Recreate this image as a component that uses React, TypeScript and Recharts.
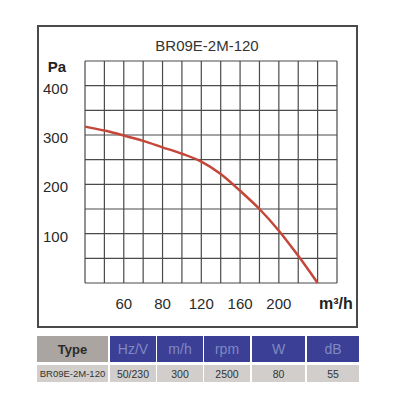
import React from 'react';
import { LineChart, Line, XAxis, YAxis, CartesianGrid } from 'recharts';

const chartTitle = 'BR09E-2M-120';
const flowIndex = [0, 1, 2, 3, 4, 5, 6, 7, 8, 9, 10, 11, 12];
const pressure = [317, 309, 299, 288, 275, 262, 246, 221, 187, 150, 106, 55, 0];
const xGridTicks = [0, 1, 2, 3, 4, 5, 6, 7, 8, 9, 10, 11, 12, 13];
const xLabelIndex = [2, 4, 6, 8, 10];
const xLabels = ['60', '80', '120', '160', '200'];
const yGridTicks = [0, 50, 100, 150, 200, 250, 300, 350, 400, 450];
const yLabels = [100, 200, 300, 400];
const tableHeaders = ['Type', 'Hz/V', 'm/h', 'rpm', 'W', 'dB'];
const tableValues = ['BR09E-2M-120', '50/230', '300', '2500', '80', '55'];

const data = flowIndex.map((x, i) => ({ x, p: pressure[i] }));

const FONT = '"Liberation Sans", Arial, sans-serif';

const YTick = (props: any) => {
  const { x, y, payload } = props;
  if (!yLabels.includes(payload.value)) return <g />;
  return (
    <text x={x} y={y} dy={8} textAnchor="end" fontSize={15} fill="#2a2a2a" fontFamily={FONT}>
      {payload.value}
    </text>
  );
};

const XTick = (props: any) => {
  const { x, y, payload } = props;
  const k = xLabelIndex.indexOf(payload.value);
  if (k < 0) return <g />;
  return (
    <text x={x} y={y} dy={26} textAnchor="middle" fontSize={15} fill="#2a2a2a" fontFamily={FONT}>
      {xLabels[k]}
    </text>
  );
};

const colX = [[37, 108], [110, 156], [157, 203], [204, 250], [252, 305], [307, 359]];

export default function App() {
  return (
    <div style={{ position: 'fixed', left: 0, top: 0, width: 400, height: 400, background: '#fff', fontFamily: FONT }}>
      <div style={{ position: 'absolute', left: 37, top: 25, width: 321, height: 303, border: '2px solid #4a4a4a', boxSizing: 'border-box' }} />
      <div style={{ position: 'absolute', left: 0, top: 0 }}>
        <LineChart width={400} height={400} data={data} margin={{ top: 61, right: 63, bottom: 87, left: 45 }}>
          <CartesianGrid stroke="#4a4a4a" strokeWidth={1.2} horizontalValues={yGridTicks} verticalValues={xGridTicks} />
          <XAxis
            dataKey="x"
            type="number"
            domain={[0, 13]}
            ticks={xGridTicks}
            interval={0}
            height={30}
            axisLine={false}
            tickLine={false}
            tickSize={0}
            tickMargin={0}
            tick={<XTick />}
          />
          <YAxis
            type="number"
            domain={[0, 450]}
            ticks={yGridTicks}
            interval={0}
            width={40}
            axisLine={false}
            tickLine={false}
            tickSize={0}
            tickMargin={17}
            tick={<YTick />}
          />
          <Line type="monotone" dataKey="p" stroke="#c4473a" strokeWidth={2.5} dot={false} isAnimationActive={false} />
        </LineChart>
      </div>
      <div style={{ position: 'absolute', left: 207, top: 45, transform: 'translate(-50%, -50%)', fontSize: 15, color: '#333', whiteSpace: 'nowrap' }}>
        {chartTitle}
      </div>
      <div style={{ position: 'absolute', left: 57, top: 66, transform: 'translate(-50%, -50%)', fontSize: 15, fontWeight: 'bold', color: '#222' }}>
        Pa
      </div>
      <div style={{ position: 'absolute', left: 319, top: 296, fontSize: 16, fontWeight: 'bold', color: '#222', lineHeight: '16px', whiteSpace: 'nowrap' }}>
        m³/h
      </div>
      {tableHeaders.map((h, i) => (
        <div
          key={'h' + i}
          style={{
            position: 'absolute',
            left: colX[i][0],
            top: 336,
            width: colX[i][1] - colX[i][0],
            height: 26,
            background: i === 0 ? '#aaa5a1' : '#3b3f96',
            color: i === 0 ? '#2b2b2b' : '#7f89c2',
            fontWeight: i === 0 ? 'bold' : 'normal',
            fontSize: i === 0 ? 13 : 14,
            display: 'flex',
            alignItems: 'center',
            justifyContent: 'center',
          }}
        >
          {h}
        </div>
      ))}
      {tableValues.map((v, i) => (
        <div
          key={'v' + i}
          style={{
            position: 'absolute',
            left: colX[i][0],
            top: 365,
            width: colX[i][1] - colX[i][0],
            height: 17,
            background: '#d1cecb',
            color: '#333',
            fontSize: i === 0 ? 9.5 : 10.5,
            display: 'flex',
            alignItems: 'center',
            justifyContent: 'center',
            whiteSpace: 'nowrap',
          }}
        >
          {v}
        </div>
      ))}
    </div>
  );
}
